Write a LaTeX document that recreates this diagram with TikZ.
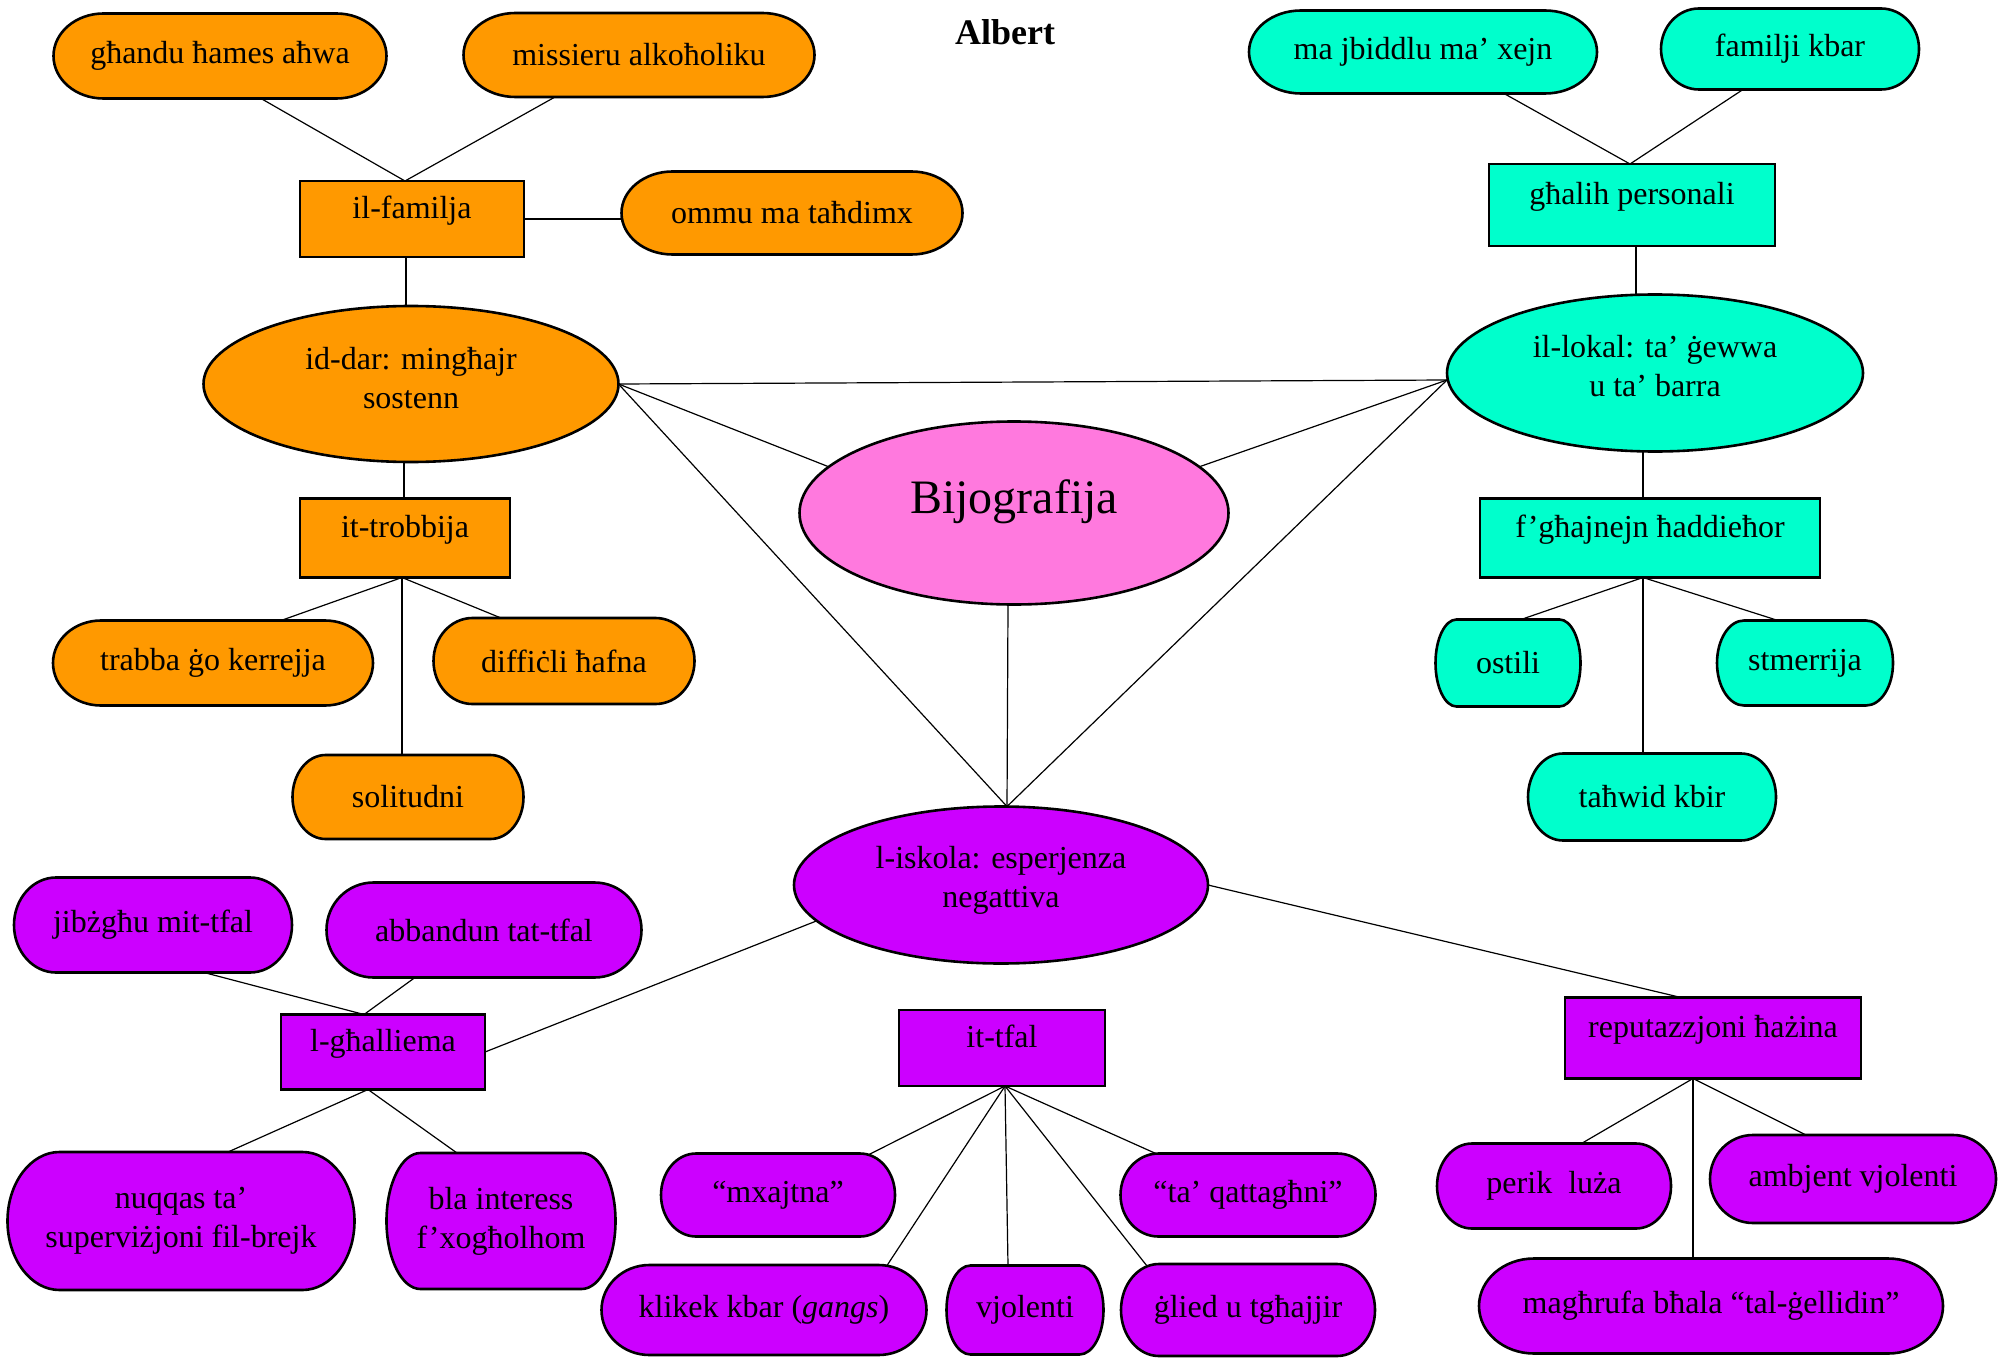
\documentclass[tikz,border=0pt]{standalone}
\usepackage{fontspec}
\setmainfont{Liberation Serif}
\usetikzlibrary{calc,shapes.geometric,backgrounds}
\definecolor{cOr}{HTML}{FF9900}
\definecolor{cTe}{HTML}{00FFCC}
\definecolor{cPi}{HTML}{FF79DE}
\definecolor{cPu}{HTML}{CC00FF}
\tikzset{
  sz/.style 2 args={minimum width=#1*0.5pt,minimum height=#2*0.5pt},
  box/.style={rectangle,draw,line width=1.3pt,inner sep=0pt,outer sep=0pt,text height=11pt,text depth=11.5pt},
  ell/.style={ellipse,draw,line width=1.3pt,inner sep=0pt,outer sep=0pt},
  pill/.style={rectangle,inner sep=0pt,outer sep=0pt},
  lbl/.style={inner sep=0pt},
  nodeline/.style={line width=1.3pt,line join=round},
  conn/.style={line width=0.6pt}}
% name, corner x-radius (px), full height (px), colour
\newcommand\pillbg[4]{\draw[nodeline,fill=#4] ($(#1.north west)+(#2,0)$) -- ($(#1.north east)+(-#2,0)$) arc[start angle=90,end angle=-90,x radius=#2*0.5pt,y radius=#3*0.25pt] -- ($(#1.south west)+(#2,0)$) arc[start angle=270,end angle=90,x radius=#2*0.5pt,y radius=#3*0.25pt] -- cycle;}
\begin{document}
\begin{tikzpicture}[x=0.5pt,y=-0.5pt,
  every node/.style={font=\fontsize{16}{19.5}\selectfont,align=center}]
\useasboundingbox (0,0) rectangle (2007,1364);

% title
\node[font=\bfseries\fontsize{18}{22}\selectfont] (title) at (1005,32) {Albert};

% pill nodes (shapes drawn on background)
\node[pill,sz={333}{85}] (ghandu) at (220,56) {għandu ħames aħwa};
\node[pill,sz={351}{84}] (missieru) at (639,55) {missieru alkoħoliku};
\node[pill,sz={341}{83}] (ommu) at (792,213) {ommu ma taħdimx};
\node[pill,sz={320}{85}] (trabba) at (213,663) {trabba ġo kerrejja};
\node[pill,sz={261}{86}] (diffcli) at (564,661) {diffiċli ħafna};
\node[pill,sz={231}{84}] (solit) at (408,797) {solitudni};
\node[pill,sz={348}{83}] (majb) at (1423,52) {ma jbiddlu ma’ xejn};
\node[pill,sz={258}{81}] (familji) at (1790,49) {familji kbar};
\node[pill,sz={145}{87}] (ostili) at (1508,663) {ostili};
\node[pill,sz={176}{85}] (stmer) at (1805,663) {stmerrija};
\node[pill,sz={248}{87}] (tahwid) at (1652,797) {taħwid kbir};
\node[pill,sz={278}{95}] (jibz) at (153,925) {jibżgħu mit-tfal};
\node[pill,sz={315}{95}] (abband) at (484,930) {abbandun tat-tfal};
\node[pill,sz={347}{138}] (nuqqas) at (181,1221) {nuqqas ta’\\superviżjoni fil-brejk};
\node[pill,sz={229}{136}] (bla) at (501,1221) {bla interess\\f’xogħolhom};
\node[pill,sz={234}{83}] (mxajtna) at (778,1195) {“mxajtna”};
\node[pill,sz={325}{90}] (klikek) at (764,1310) {klikek kbar (\textit{gangs})};
\node[pill,sz={157}{89}] (vjol) at (1025,1310) {vjolenti};
\node[pill,sz={255}{83}] (qatt) at (1248,1195) {“ta’ qattagħni”};
\node[pill,sz={254}{92}] (glied) at (1248,1310) {ġlied u tgħajjir};
\node[pill,sz={234}{85}] (perik) at (1554,1186) {perik~~luża};
\node[pill,sz={286}{88}] (ambj) at (1853,1179) {ambjent vjolenti};
\node[pill,sz={464}{95}] (maghr) at (1711,1306) {magħrufa bħala “tal-ġellidin”};

% rectangles
\node[box,fill=cOr,sz={224}{76}] (fam) at (412,219) {il-familja};
\node[box,fill=cOr,sz={210}{79}] (trob) at (405,538) {it-trobbija};
\node[box,fill=cTe,sz={286}{82}] (ghal) at (1632,205) {għalih personali};
\node[box,fill=cTe,sz={340}{79}] (fgh) at (1650,538) {f’għajnejn ħaddieħor};
\node[box,fill=cPu,sz={204}{75}] (ghall) at (383,1052) {l-għalliema};
\node[box,fill=cPu,sz={206}{76}] (tfal) at (1002,1048) {it-tfal};
\node[box,fill=cPu,sz={296}{81}] (rep) at (1713,1038) {reputazzjoni ħażina};

% ellipses
\node[ell,fill=cOr,sz={415}{156}] (dar) at (411,384) {};
\node[lbl] (darT) at (411,378) {id-dar: mingħajr\\sostenn};
\node[ell,fill=cTe,sz={416}{157}] (lokal) at (1655,373) {};
\node[lbl] (lokalT) at (1655,366) {il-lokal: ta’ ġewwa\\u ta’ barra};
\node[ell,fill=cPi,sz={429}{183},text height=16.5pt,text depth=16.5pt,font=\fontsize{24}{28}\selectfont] (bijo) at (1014,513) {Bijografija};
\node[ell,fill=cPu,sz={414}{157}] (isk) at (1001,885) {};
\node[lbl] (iskT) at (1001,880) {l-iskola: esperjenza\\negattiva};

% connector end points
\coordinate (famT) at ($(fam.north)+(-7,0)$);
\coordinate (famB) at ($(fam.south)+(-6,0)$);
\coordinate (darB) at ($(dar.south)+(-7,0)$);
\coordinate (trobB) at ($(trob.south)+(-3,0)$);
\coordinate (ghalT) at ($(ghal.north)+(-2,0)$);
\coordinate (ghalB) at ($(ghal.south)+(4,0)$);
\coordinate (lokalB) at ($(lokal.south)+(-12,0)$);
\coordinate (lokalW) at ($(lokal.west)+(0,7)$);
\coordinate (fghB) at ($(fgh.south)+(-7,0)$);
\coordinate (iskN) at ($(isk.north)+(6,0)$);
\coordinate (ghallT) at ($(ghall.north)+(-19,0)$);
\coordinate (ghallB) at ($(ghall.south)+(-15,0)$);
\coordinate (tfalB) at ($(tfal.south)+(3,0)$);
\coordinate (repT) at ($(rep.north)+(-32,0)$);
\coordinate (repB) at ($(rep.south)+(-20,0)$);

\begin{pgfonlayer}{background}
\draw[conn] (famT) -- ($(ghandu.south)+(41,0)$);
\draw[conn] (famT) -- ($(missieru.south)+(-84,0)$);
\draw[conn] (fam.east) -- (fam.east -| ommu.west);
\draw[conn] (famB) -- (famB |- dar.north);
\draw[conn] (darB) -- (darB |- trob.north);
\draw[conn] (trobB) -- ($(trabba.north)+(68,0)$);
\draw[conn] (trobB) -- ($(diffcli.north)+(-63,0)$);
\draw[conn] (trobB) -- (trobB |- solit.north);
\draw[conn] (ghalT) -- ($(majb.south)+(81,0)$);
\draw[conn] (ghalT) -- ($(familji.south)+(-47,0)$);
\draw[conn] (ghalB) -- (ghalB |- lokal.north);
\draw[conn] (lokalB) -- (lokalB |- fgh.north);
\draw[conn] (fghB) -- ($(ostili.north)+(13,0)$);
\draw[conn] (fghB) -- ($(stmer.north)+(-27,0)$);
\draw[conn] (fghB) -- (fghB |- tahwid.north);
\draw[conn] (dar.east) -- (lokalW);
\draw[conn] (dar.east) -- (bijo.166);
\draw[conn] (dar.east) -- (iskN);
\draw[conn] (lokalW) -- (bijo.14);
\draw[conn] (lokalW) -- (iskN);
\draw[conn] ($(bijo.south)+(-6,0)$) -- (iskN);
\draw[conn] (ghallT) -- ($(jibz.south)+(51,0)$);
\draw[conn] (ghallT) -- ($(abband.south)+(-69,0)$);
\draw[conn] (ghall.east) -- (isk.191);
\draw[conn] (ghallB) -- ($(nuqqas.north)+(47,0)$);
\draw[conn] (ghallB) -- ($(bla.north)+(-44,0)$);
\draw[conn] (tfalB) -- ($(mxajtna.north)+(89,2)$);
\draw[conn] (tfalB) -- ($(klikek.north)+(122,2)$);
\draw[conn] (tfalB) -- ($(vjol.north)+(-17,0)$);
\draw[conn] (tfalB) -- ($(qatt.north)+(-90,1)$);
\draw[conn] (tfalB) -- ($(glied.north)+(-101,2)$);
\draw[conn] (isk.east) -- (repT);
\draw[conn] (repB) -- ($(perik.north)+(24,2)$);
\draw[conn] (repB) -- ($(ambj.north)+(-47,0)$);
\draw[conn] (repB) -- (repB |- maghr.north);

\pillbg{ghandu}{50}{85}{cOr}
\pillbg{missieru}{52}{84}{cOr}
\pillbg{ommu}{51}{83}{cOr}
\pillbg{trabba}{48}{85}{cOr}
\pillbg{diffcli}{39}{86}{cOr}
\pillbg{solit}{33}{84}{cOr}
\pillbg{majb}{52}{83}{cTe}
\pillbg{familji}{38}{81}{cTe}
\pillbg{ostili}{21}{87}{cTe}
\pillbg{stmer}{27}{85}{cTe}
\pillbg{tahwid}{35}{87}{cTe}
\pillbg{jibz}{42}{95}{cPu}
\pillbg{abband}{47}{95}{cPu}
\pillbg{nuqqas}{52}{138}{cPu}
\pillbg{bla}{34}{136}{cPu}
\pillbg{mxajtna}{35}{83}{cPu}
\pillbg{klikek}{48}{90}{cPu}
\pillbg{vjol}{24}{89}{cPu}
\pillbg{qatt}{38}{83}{cPu}
\pillbg{glied}{38}{92}{cPu}
\pillbg{perik}{35}{85}{cPu}
\pillbg{ambj}{43}{88}{cPu}
\pillbg{maghr}{55}{95}{cPu}
\end{pgfonlayer}
\end{tikzpicture}
\end{document}
